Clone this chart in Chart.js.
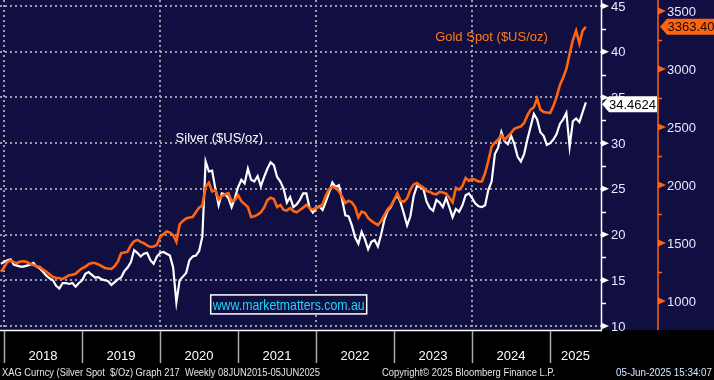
<!DOCTYPE html>
<html>
<head>
<meta charset="utf-8">
<script src="https://cdn.jsdelivr.net/npm/chart.js@4.4.1/dist/chart.umd.min.js"></script>
<style>
  html, body { margin: 0; padding: 0; background: #000; }
  canvas { display: block; }
</style>
</head>
<body>
<canvas id="myChart" width="714" height="380"></canvas>
<script>
//DATA - semi-monthly closes, first point mid Dec 2017
const startYear = 2017.96;
const stepYears = 1 / 24;

const silver = [
    16.8, 17.0, 17.2, 17.3, 16.7, 16.6, 16.5, 16.5, 16.6, 16.7,
    16.9, 16.5, 16.3, 15.9, 15.5, 15.2, 15.0, 14.4, 14.1, 14.7,
    14.7, 14.6, 14.7, 14.3, 14.7, 15.0, 15.7, 15.9, 15.6, 15.3,
    15.35, 15.1, 15.0, 14.9, 14.5, 14.8, 15.1, 15.3, 16.0, 16.4,
    17.0, 18.3, 18.0, 17.6, 17.9, 18.0, 17.2, 16.8, 17.6, 18.0,
    18.1, 17.9, 17.7, 16.4, 12.6, 15.0, 15.4, 15.8, 17.2, 17.6,
    17.7, 18.2, 19.8, 28.0, 26.9, 27.0, 25.0, 23.2, 24.5, 24.4,
    24.0, 23.0, 24.0, 25.2, 26.0, 25.6, 27.2, 26.0, 25.8, 26.4,
    25.3, 26.3, 27.2, 27.9, 27.6, 26.3, 25.8, 25.0, 23.5, 24.1,
    23.0, 23.3, 23.8, 24.5, 24.5, 22.9, 22.4, 22.9, 23.1, 22.7,
    23.6, 24.6, 25.7, 25.2, 25.4, 23.8, 22.1, 22.0, 21.0, 19.7,
    19.0, 20.3, 19.5, 18.4, 19.2, 19.4, 18.7, 20.0, 21.6, 22.6,
    23.0, 23.8, 24.3, 23.5, 22.3, 21.0, 22.0, 24.2, 25.3, 25.2,
    25.0, 23.6, 22.9, 22.6, 23.8, 23.5, 23.0, 24.0, 23.0, 21.9,
    22.8, 22.5, 23.2, 24.3, 24.5, 24.0, 23.4, 23.1, 23.0, 23.2,
    24.9, 25.8, 28.8, 29.5, 31.2, 30.2, 29.9, 30.8, 29.9, 28.5,
    28.0, 28.8, 30.4, 31.8, 33.2, 32.6, 31.2, 30.8, 29.8, 30.0,
    30.4, 31.0, 32.1, 32.6, 33.3, 29.6, 32.4, 32.7, 32.3, 33.4,
    34.4624
];

const gold = [
    1252, 1290, 1336, 1350, 1335, 1328, 1340, 1343, 1336, 1320,
    1310, 1300, 1293, 1270, 1252, 1230, 1207, 1200, 1196, 1190,
    1205, 1222, 1226, 1235, 1260, 1282, 1295, 1318, 1328, 1328,
    1315, 1300, 1285, 1280, 1276, 1300, 1340, 1412, 1418, 1425,
    1480, 1515, 1526, 1510, 1498, 1480, 1466, 1470, 1483, 1552,
    1575, 1600, 1590, 1569, 1510, 1660, 1690, 1712, 1720, 1724,
    1765, 1805, 1825, 1985, 2020, 1945, 1955, 1875, 1905, 1920,
    1930, 1860, 1870, 1912, 1860, 1835, 1810, 1725, 1730, 1745,
    1765, 1805, 1870, 1890, 1880, 1810, 1828, 1785, 1780, 1802,
    1775, 1765, 1784, 1805, 1828, 1800, 1788, 1805, 1810, 1835,
    1910, 1965, 1983, 1975, 1945, 1900, 1845, 1865, 1850, 1810,
    1720, 1770, 1760, 1716, 1690, 1672, 1655, 1690, 1740, 1790,
    1820, 1870, 1930, 1865, 1855, 1885, 1960, 2005, 2017, 1995,
    1978, 1950, 1940, 1925, 1920, 1940, 1935, 1925, 1890, 1850,
    1975, 1960, 1990, 2060, 2035, 2055, 2043, 2030, 2030, 2103,
    2210, 2330, 2365, 2390, 2430, 2390, 2420, 2450, 2485, 2495,
    2505, 2535, 2600, 2650, 2670, 2745, 2650, 2630, 2625, 2620,
    2680, 2760, 2860, 2925, 3000, 3130, 3250, 3330, 3220, 3330,
    3363.40
];

const years = [2018, 2019, 2020, 2021, 2022, 2023, 2024, 2025, 2026];
const gridYears = [2018, 2020, 2022, 2024];
const silverTicks = [10, 15, 20, 25, 30, 35, 40, 45];
const goldTicks = [1000, 1500, 2000, 2500, 3000, 3500];
const lastSilver = "34.4624";
const lastGold = "3363.40";

//COLOURS
const NAVY = "#110f42";
const ORANGE = "#ff6410";
const FONT = "'Liberation Sans', Arial, sans-serif";

const toPoints = (arr) => arr.map((v, i) => ({x: startYear + i * stepYears, y: v}));

const bloombergFrame = {
    id: "bloombergFrame",
    beforeDraw(chart) {
        const {ctx, chartArea: a, scales} = chart;
        ctx.save();
        ctx.fillStyle = "#000";
        ctx.fillRect(0, 0, chart.width, chart.height);
        ctx.fillStyle = NAVY;
        ctx.fillRect(0, 0, chart.width, a.bottom);

        // dotted grid
        ctx.strokeStyle = "#9c9cab";
        ctx.lineWidth = 2;
        ctx.setLineDash([2, 3]);
        silverTicks.forEach((v) => {
            const y = Math.round(scales.y.getPixelForValue(v));
            ctx.beginPath();
            ctx.moveTo(a.left, y);
            ctx.lineTo(a.right, y);
            ctx.stroke();
        });
        gridYears.forEach((yr) => {
            const x = Math.round(scales.x.getPixelForValue(yr));
            ctx.beginPath();
            ctx.moveTo(x, a.top);
            ctx.lineTo(x, a.bottom);
            ctx.stroke();
        });
        ctx.restore();
    },
    afterDatasetsDraw(chart) {
        const {ctx, chartArea: a, scales} = chart;
        ctx.save();
        ctx.setLineDash([]);

        // silver axis
        ctx.strokeStyle = "#fff";
        ctx.lineWidth = 1.5;
        ctx.beginPath();
        ctx.moveTo(a.right + 0.5, 0);
        ctx.lineTo(a.right + 0.5, a.bottom);
        ctx.moveTo(0, a.bottom + 0.5);
        ctx.lineTo(a.right + 1, a.bottom + 0.5);
        ctx.stroke();
        ctx.font = "13px " + FONT;
        ctx.textBaseline = "middle";
        silverTicks.forEach((v) => {
            const y = scales.y.getPixelForValue(v);
            ctx.fillStyle = "#fff";
            ctx.beginPath();
            ctx.moveTo(a.right, y - 3.5);
            ctx.lineTo(a.right + 8, y);
            ctx.lineTo(a.right, y + 3.5);
            ctx.fill();
            ctx.fillStyle = "#e6eaff";
            ctx.textAlign = "left";
            ctx.fillText(String(v), a.right + 10, y + 1);
            if (v < 45) {
                const ym = Math.round(scales.y.getPixelForValue(v + 2.5)) + 0.5;
                ctx.beginPath();
                ctx.moveTo(a.right, ym);
                ctx.lineTo(a.right + 5, ym);
                ctx.stroke();
            }
        });

        // gold axis
        const gx = a.right + 57;
        ctx.strokeStyle = ORANGE;
        ctx.fillStyle = ORANGE;
        ctx.lineWidth = 1.5;
        ctx.beginPath();
        ctx.moveTo(gx, 0);
        ctx.lineTo(gx, a.bottom);
        ctx.stroke();
        for (let g = 1000; g <= 3500; g += 250) {
            const y = scales.y2.getPixelForValue(g);
            if (goldTicks.includes(g)) {
                ctx.fillStyle = ORANGE;
                ctx.beginPath();
                ctx.moveTo(gx, y - 3.5);
                ctx.lineTo(gx + 8, y);
                ctx.lineTo(gx, y + 3.5);
                ctx.fill();
                ctx.fillStyle = "#e6eaff";
                ctx.fillText(String(g), gx + 9, y + 1);
            } else {
                ctx.beginPath();
                ctx.moveTo(gx, Math.round(y) + 0.5);
                ctx.lineTo(gx + 4, Math.round(y) + 0.5);
                ctx.stroke();
            }
        }

        // last value tags
        const tag = (x, y, w, fill, textCol, text) => {
            ctx.fillStyle = fill;
            ctx.beginPath();
            ctx.moveTo(x, y);
            ctx.lineTo(x + 7, y - 8);
            ctx.lineTo(x + w, y - 8);
            ctx.lineTo(x + w, y + 8);
            ctx.lineTo(x + 7, y + 8);
            ctx.closePath();
            ctx.fill();
            ctx.fillStyle = textCol;
            ctx.textAlign = "center";
            ctx.fillText(text, x + 6 + (w - 6) / 2, y + 1);
        };
        tag(a.right + 1, scales.y.getPixelForValue(silver[silver.length - 1]) + 2, 55, "#fff", "#000", lastSilver);
        tag(gx + 2, scales.y2.getPixelForValue(gold[gold.length - 1]), 56, ORANGE, "#1a0800", lastGold);

        // series labels
        ctx.textAlign = "center";
        ctx.fillStyle = "#ff7a1a";
        ctx.fillText("Gold Spot ($US/oz)", scales.x.getPixelForValue(2024.25), scales.y2.getPixelForValue(3276), 114);
        ctx.fillStyle = "#fff";
        ctx.fillText("Silver ($US/oz)", scales.x.getPixelForValue(2020.76), scales.y.getPixelForValue(30.56), 88);

        // watermark box
        const bx = scales.x.getPixelForValue(2020.65), by = scales.y.getPixelForValue(13.4);
        ctx.fillStyle = NAVY;
        ctx.fillRect(bx, by, 156, 19);
        ctx.strokeStyle = "#fff";
        ctx.lineWidth = 1.5;
        ctx.strokeRect(bx, by, 156, 19);
        ctx.fillStyle = "#1fd6f4";
        ctx.font = "15px " + FONT;
        ctx.fillText("www.marketmatters.com.au", bx + 78, by + 10.5, 152);

        // year band
        ctx.font = "13px " + FONT;
        ctx.strokeStyle = "#a8a8a8";
        ctx.lineWidth = 1.5;
        for (let i = 0; i < years.length - 1; i++) {
            const x0 = scales.x.getPixelForValue(years[i]);
            const x1 = Math.min(scales.x.getPixelForValue(years[i + 1]), a.right);
            ctx.beginPath();
            ctx.moveTo(Math.round(x0) + 0.5, a.bottom + 1);
            ctx.lineTo(Math.round(x0) + 0.5, a.bottom + 33);
            ctx.stroke();
            ctx.fillStyle = "#fff";
            ctx.textAlign = "center";
            ctx.fillText(String(years[i]), (x0 + x1) / 2, a.bottom + 26);
        }

        // footer
        ctx.font = "11px " + FONT;
        ctx.fillStyle = "#e4e4ec";
        ctx.textAlign = "left";
        ctx.fillText("XAG Curncy (Silver Spot  $/Oz) Graph 217  Weekly 08JUN2015-05JUN2025", 2, 373, 318);
        ctx.fillText("Copyright\u00a9 2025 Bloomberg Finance L.P.", 382, 373, 173);
        ctx.fillStyle = "#d8e8ff";
        ctx.fillText("05-Jun-2025 15:34:07", 616, 373, 96);
        ctx.restore();
    }
};

const config = {
    type: "line",
    data: {
        datasets: [
            {
                label: "Gold Spot ($US/oz)",
                data: toPoints(gold),
                yAxisID: "y2",
                borderColor: ORANGE,
                borderWidth: 2.6,
                pointRadius: 0,
                tension: 0
            },
            {
                label: "Silver ($US/oz)",
                data: toPoints(silver),
                yAxisID: "y",
                borderColor: "#ffffff",
                borderWidth: 2.2,
                pointRadius: 0,
                tension: 0
            }
        ]
    },
    options: {
        responsive: false,
        animation: false,
        devicePixelRatio: 1,
        layout: {padding: {left: 0, top: 0, right: 113, bottom: 50}},
        plugins: {legend: {display: false}, tooltip: {enabled: false}},
        scales: {
            x: {type: "linear", min: 2017.9487, max: 2025.654, display: false},
            y: {type: "linear", position: "right", min: 9.5625, max: 45.656, display: false},
            y2: {type: "linear", position: "right", min: 750, max: 3594.8, display: false}
        }
    },
    plugins: [bloombergFrame]
};

var myChart = new Chart(document.querySelector("#myChart"), config);
</script>
</body>
</html>
